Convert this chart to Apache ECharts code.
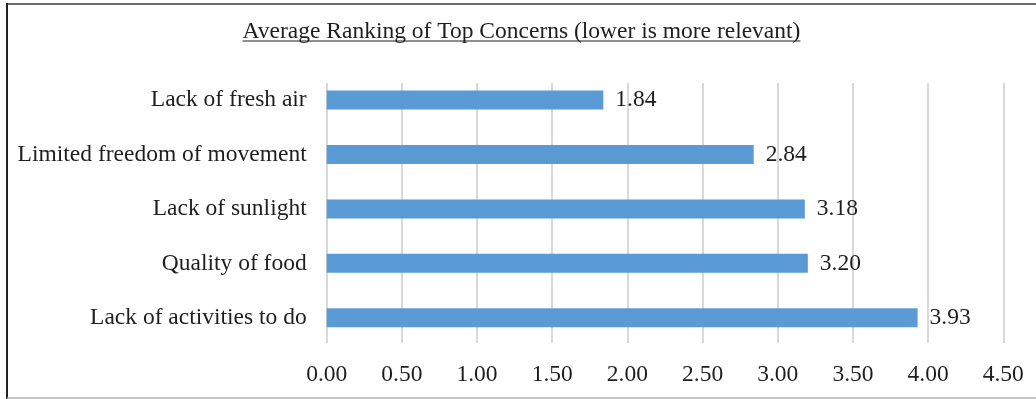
<!DOCTYPE html>
<html>
<head>
<meta charset="utf-8">
<script src="https://cdn.jsdelivr.net/npm/echarts@6/dist/echarts.min.js"></script>
<style>
html,body{margin:0;padding:0;background:#fff;}
#chart{width:1036px;height:399px;}
</style>
</head>
<body>
<div id="chart"></div>
<script>
const titleText = 'Average Ranking of Top Concerns (lower is more relevant)';
const categories = ['Lack of fresh air', 'Limited freedom of movement', 'Lack of sunlight', 'Quality of food', 'Lack of activities to do'];
const values = [1.84, 2.84, 3.18, 3.20, 3.93];
const xTicks = [0, 0.5, 1, 1.5, 2, 2.5, 3, 3.5, 4, 4.5];

const FONT = '"Liberation Serif", "Times New Roman", serif';
const FS = 23.5;
const TXT = '#1e1e1e';

const chart = echarts.init(document.getElementById('chart'), null, {renderer: 'canvas'});

// measure title width for underline
const cv = document.createElement('canvas').getContext('2d');
cv.font = FS + 'px ' + FONT;
const tw = cv.measureText(titleText).width;
const tcx = 521.5;

const gridLeft = 326.7, gridRight = 1036 - 1003.3;

chart.setOption({
  backgroundColor: '#fff',
  animation: false,
  grid: [
    {left: gridLeft, right: gridRight, top: 83, bottom: 399 - 343},
    {left: gridLeft, right: gridRight, top: 72.8, height: 272.2}
  ],
  xAxis: [
    {
      gridIndex: 0, type: 'value', min: xTicks[0], max: xTicks[xTicks.length - 1], interval: 0.5,
      axisLine: {show: false}, axisTick: {show: false},
      splitLine: {show: true, lineStyle: {color: '#D9D9D9', width: 2}},
      axisLabel: {
        margin: 20, color: TXT, fontFamily: FONT, fontSize: FS,
        formatter: v => v.toFixed(2)
      }
    },
    {
      gridIndex: 1, type: 'value', min: xTicks[0], max: xTicks[xTicks.length - 1], interval: 0.5,
      show: false
    }
  ],
  yAxis: [
    {gridIndex: 0, type: 'category', data: categories, show: false},
    {
      gridIndex: 1, type: 'category', data: categories, inverse: true,
      axisLine: {show: false}, axisTick: {show: false},
      axisLabel: {margin: 20, color: TXT, fontFamily: FONT, fontSize: FS}
    }
  ],
  series: [{
    type: 'bar', xAxisIndex: 1, yAxisIndex: 1,
    data: values, barWidth: 19,
    itemStyle: {color: '#5B9BD5'},
    label: {
      show: true, position: 'right', distance: 12,
      color: TXT, fontFamily: FONT, fontSize: FS,
      formatter: p => p.value.toFixed(2)
    }
  }],
  graphic: [
    {type: 'text', x: tcx, y: 32, silent: true,
      style: {text: titleText, fill: TXT, font: FS + 'px ' + FONT, align: 'center', verticalAlign: 'middle'}},
    {type: 'line', silent: true, shape: {x1: tcx - tw / 2, y1: 41, x2: tcx + tw / 2, y2: 41}, style: {stroke: TXT, lineWidth: 1.2}},
    {type: 'line', silent: true, shape: {x1: 6, y1: 4, x2: 1036, y2: 4}, style: {stroke: '#6b6b6b', lineWidth: 2}},
    {type: 'line', silent: true, shape: {x1: 7, y1: 3, x2: 7, y2: 399}, style: {stroke: '#222', lineWidth: 2}},
    {type: 'line', silent: true, shape: {x1: 7, y1: 398, x2: 1036, y2: 398}, style: {stroke: '#b0b0b0', lineWidth: 1.5}}
  ]
});
</script>
</body>
</html>
